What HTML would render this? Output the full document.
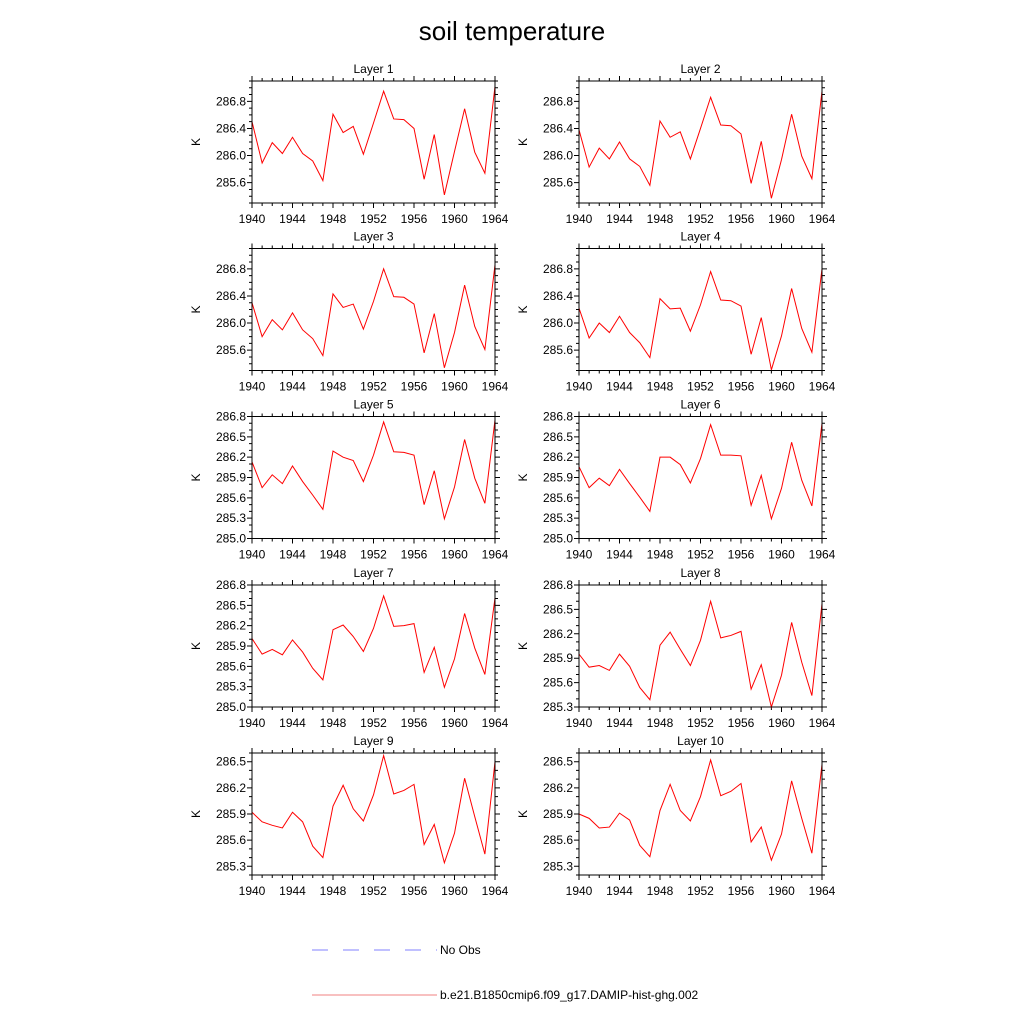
<!DOCTYPE html>
<html><head><meta charset="utf-8"><style>
html,body{margin:0;padding:0;background:#fff;width:1024px;height:1024px;overflow:hidden}
svg text{font-family:"Liberation Sans",sans-serif;fill:#000}
</style></head><body>
<svg id="chart" xmlns="http://www.w3.org/2000/svg" width="1024" height="1024" viewBox="0 0 1024 1024">
<rect width="1024" height="1024" fill="#fff"/>
<text x="512" y="40" font-size="26" text-anchor="middle">soil temperature</text>
<g id="panels"></g>
<g>
<line x1="312" y1="950" x2="437" y2="950" stroke="#8080ff" stroke-width="1" stroke-dasharray="16,15"/>
<text x="440" y="954" font-size="12">No Obs</text>
<line x1="312" y1="995" x2="437" y2="995" stroke="#f08080" stroke-width="1"/>
<text x="440" y="999" font-size="12">b.e21.B1850cmip6.f09_g17.DAMIP-hist-ghg.002</text>
</g>
</svg>
<script>
const years = [1940,1941,1942,1943,1944,1945,1946,1947,1948,1949,1950,1951,1952,1953,1954,1955,1956,1957,1958,1959,1960,1961,1962,1963,1964];
const xTickLabels = [1940,1944,1948,1952,1956,1960,1964];
const layer1 = [286.5,285.89,286.19,286.03,286.27,286.03,285.92,285.63,286.61,286.34,286.43,286.02,286.48,286.95,286.54,286.53,286.4,285.65,286.31,285.42,286.06,286.69,286.05,285.74,287.02];
const layer2 = [286.38,285.83,286.11,285.95,286.2,285.95,285.84,285.56,286.51,286.27,286.35,285.95,286.4,286.86,286.45,286.44,286.32,285.59,286.21,285.37,285.94,286.61,285.99,285.66,286.95];
const layer3 = [286.3,285.8,286.05,285.9,286.15,285.9,285.77,285.52,286.43,286.23,286.28,285.91,286.32,286.8,286.39,286.38,286.28,285.56,286.14,285.34,285.86,286.56,285.95,285.61,286.86];
const layer4 = [286.22,285.78,286.0,285.86,286.1,285.86,285.71,285.49,286.36,286.21,286.22,285.88,286.27,286.76,286.34,286.33,286.25,285.54,286.08,285.31,285.81,286.51,285.92,285.57,286.8];
const layer5 = [286.13,285.75,285.94,285.81,286.07,285.84,285.64,285.43,286.29,286.2,286.15,285.84,286.23,286.72,286.28,286.27,286.23,285.5,286.0,285.29,285.76,286.46,285.89,285.52,286.75];
const layer6 = [286.06,285.75,285.89,285.78,286.02,285.81,285.61,285.4,286.2,286.2,286.09,285.82,286.18,286.68,286.23,286.23,286.22,285.49,285.93,285.29,285.74,286.42,285.86,285.48,286.7];
const layer7 = [286.01,285.78,285.85,285.77,285.99,285.81,285.57,285.4,286.14,286.21,286.04,285.82,286.16,286.64,286.19,286.2,286.23,285.51,285.88,285.29,285.71,286.38,285.87,285.48,286.61];
const layer8 = [285.95,285.79,285.81,285.75,285.95,285.8,285.54,285.39,286.06,286.22,286.01,285.81,286.12,286.6,286.15,286.18,286.23,285.52,285.82,285.3,285.69,286.34,285.85,285.44,286.57];
const layer9 = [285.92,285.81,285.77,285.74,285.92,285.81,285.53,285.4,285.99,286.23,285.96,285.82,286.12,286.57,286.13,286.17,286.24,285.55,285.78,285.34,285.68,286.31,285.87,285.44,286.5];
const layer10 = [285.9,285.85,285.74,285.75,285.91,285.83,285.54,285.41,285.94,286.24,285.94,285.82,286.1,286.52,286.11,286.16,286.25,285.58,285.75,285.37,285.67,286.28,285.85,285.45,286.47];
const yMins = [285.3,285.3,285.3,285.3,285.0,285.0,285.0,285.3,285.2,285.2];
const yMaxs = [287.1,287.1,287.1,287.1,286.8,286.8,286.8,286.8,286.6,286.6];
const yMajorSteps = [0.4,0.4,0.4,0.4,0.3,0.3,0.3,0.3,0.3,0.3];
const yFirstTicks = [285.6,285.6,285.6,285.6,285.0,285.0,285.0,285.3,285.3,285.3];
const layers = [layer1,layer2,layer3,layer4,layer5,layer6,layer7,layer8,layer9,layer10];

const NS = "http://www.w3.org/2000/svg";
const root = document.getElementById('panels');
const colX = [252,579], W = 243, H = 122;
const rowY = [81,248.5,416.5,585,753];
function mk(tag, attrs, parent){const e=document.createElementNS(NS,tag);for(const k in attrs)e.setAttribute(k,attrs[k]);parent.appendChild(e);return e;}

layers.forEach((vals,i)=>{
  const L = colX[i%2], T = rowY[Math.floor(i/2)], B = T+H, R = L+W;
  const ymin=yMins[i], ymax=yMaxs[i];
  const xs = v => L + (v-years[0])/(years[years.length-1]-years[0])*W;
  const ys = v => B - (v-ymin)/(ymax-ymin)*H;
  const g = mk('g',{},root);
  
  
  const t = mk('text',{x:(L+R)/2,y:T-8,'font-size':12,'text-anchor':'middle'},g);
  t.textContent='Layer '+(i+1);
  
  
  let d='';
  // x ticks
  years.forEach(y=>{
    const x=xs(y), major = xTickLabels.includes(y), len = major?5:3;
    d+=`M${x},${B}v${len}M${x},${T}v${-len}`;
  });
  // y ticks
  for(let v=Math.ceil(ymin*10-1e-6)/10; v<=ymax+1e-6; v=Math.round((v+0.1)*10)/10){
    const yy=ys(v);
    const k=(v-yFirstTicks[i])/yMajorSteps[i];
    const major=Math.abs(k-Math.round(k))<1e-6 && v>=yFirstTicks[i]-1e-6;
    const len=major?5:3;
    d+=`M${L},${yy}h${-len}M${R},${yy}h${len}`;
    if(major){
      const lb=mk('text',{x:L-6,y:yy+4,'font-size':12,'text-anchor':'end'},g);
      lb.textContent=v.toFixed(1);
      
      
    }
  }
  const ticks=mk('path',{d:d,stroke:'#000','stroke-width':1,fill:'none'},g);
  
  
  xTickLabels.forEach(y=>{
    const lb=mk('text',{x:xs(y),y:B+20,'font-size':12,'text-anchor':'middle'},g);
    lb.textContent=y;
    
    
  });
  const yt=mk('text',{x:0,y:0,'font-size':12,'text-anchor':'middle',transform:`translate(${L-52},${(T+B)/2}) rotate(-90)`},g);
  yt.textContent='K';
  
  
  const pts=vals.map((v,j)=>xs(years[j]).toFixed(2)+','+ys(v).toFixed(2)).join(' ');
  const pl=mk('polyline',{points:pts,fill:'none',stroke:'#ff0000','stroke-width':1},g);
  
  
  const fr=mk('rect',{x:L,y:T,width:W,height:H,fill:'none',stroke:'#000','stroke-width':1},g);
  
  
});
</script>
</body></html>
